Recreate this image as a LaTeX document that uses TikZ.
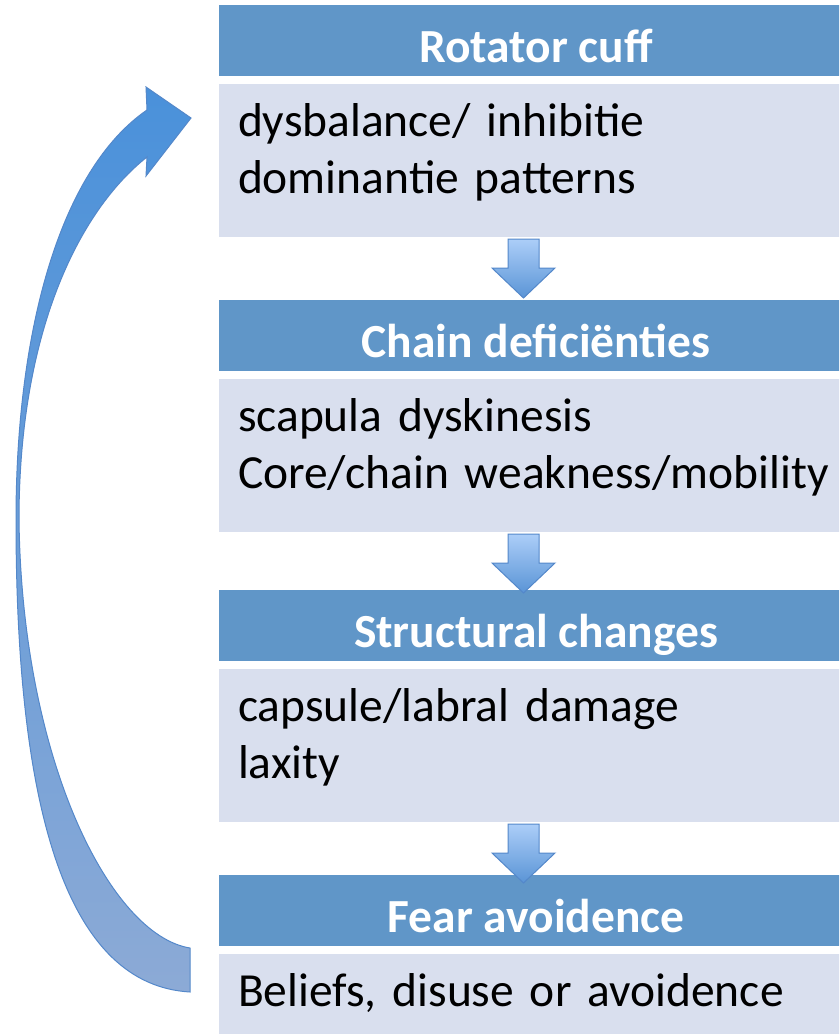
\documentclass[tikz,border=0pt]{standalone}
\usepackage{fontspec}
\setmainfont{Carlito}
\usetikzlibrary{positioning,calc}
\definecolor{headblue}{RGB}{96,150,200}
\definecolor{bodygrey}{RGB}{217,223,238}
\definecolor{arrowline}{RGB}{84,136,202}
\definecolor{arrowtop}{RGB}{172,206,248}
\definecolor{arrowbottom}{RGB}{90,148,214}
\definecolor{curvetop}{RGB}{74,145,218}
\definecolor{curvebottom}{RGB}{140,170,214}
\begin{document}
\begin{tikzpicture}[x=1pt,y=-1pt,
  head/.style={fill=headblue,text=white,font=\bfseries\fontsize{47.5}{58}\selectfont,
    minimum width=634pt,inner sep=0pt,outer sep=0pt,text height=57pt,text depth=14pt},
  body/.style={fill=bodygrey,font=\fontsize{47.5}{57}\selectfont,text width=596pt,
    inner xsep=19pt,inner ysep=0pt,outer sep=0pt,align=left,text height=52pt,text depth=101pt},
  downarrow/.style={draw=arrowline,line width=1pt,top color=arrowtop,bottom color=arrowbottom},
  bigarrow/.style={draw=arrowline,line width=1pt,top color=curvetop,bottom color=curvebottom}]
\clip (0,0) rectangle (839,1034);
\node (cuff) [head,anchor=north west] at (219,5) {Rotator cuff};
\node (cuffbody) [body,below=8pt of cuff] {dysbalance/ inhibitie\\dominantie patterns};
\node (chain) [head,below=63pt of cuffbody] {Chain deficiënties};
\node (chainbody) [body,below=8pt of chain] {scapula dyskinesis\\Core/chain weakness/mobility};
\node (struct) [head,below=58pt of chainbody] {Structural changes};
\node (structbody) [body,below=8pt of struct] {capsule/labral damage\\laxity};
\node (fear) [head,below=53pt of structbody] {Fear avoidence};
\node (fearbody) [body,below=8pt of fear,text depth=80pt] {Beliefs, disuse or avoidence};
\foreach \a in {cuffbody,chainbody,structbody}
  \draw[downarrow] ($(\a.south)+(-28,2)$) -- ++(31,0) -- ++(0,29) -- ++(16,0)
    -- ++(-31.5,30) -- ++(-31.5,-30) -- ++(16,0) -- cycle;
\draw[bigarrow] (190,948) .. controls (110,935) and (22,760) .. (19,520)
  .. controls (19,330) and (80,210) .. (147,157) -- (146,176) -- (191,118)
  -- (146,87) -- (147,110) .. controls (60,170) and (16,330) .. (16,520)
  .. controls (16,820) and (70,985) .. (190,992) -- cycle;
\end{tikzpicture}
\end{document}
